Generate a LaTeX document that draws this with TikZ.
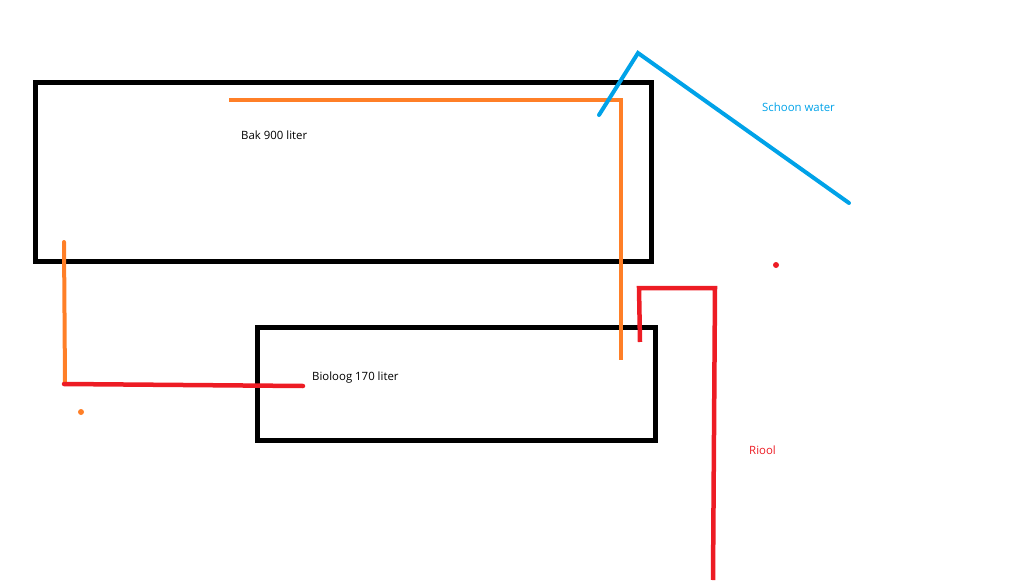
\documentclass[tikz,border=0pt]{standalone}
\usepackage{fontspec}
\setmainfont{Open Sans}
\definecolor{paintorange}{RGB}{255,127,39}
\definecolor{paintred}{RGB}{237,28,36}
\definecolor{paintblue}{RGB}{0,162,232}
\begin{document}
\begin{tikzpicture}[x=1pt,y=-1pt,
  tank/.style={draw=black,line width=5pt,inner sep=0pt},
  opipe/.style={draw=paintorange,line width=4pt,line cap=round},
  rpipe/.style={draw=paintred,line width=4.5pt,line cap=round},
  bpipe/.style={draw=paintblue,line width=4pt,line cap=round},
  lbl/.style={font=\fontsize{11.4}{13}\selectfont,anchor=west,inner sep=0pt}]
\useasboundingbox (0,0) rectangle (1023,586);
% tanks
\draw[tank] (35,83) rectangle (651,261);
\draw[tank] (257,327) rectangle (655,440);
% orange pipes
\coordinate (o1) at (229,100);
\coordinate (o2) at (621,100);
\coordinate (o3) at (621,360);
\draw[opipe,line cap=butt] (o1) -- (o2) -- (o3);
\coordinate (o4) at (64,242);
\coordinate (o5) at (65,384);
\draw[opipe] (o4) -- (o5);
\fill[paintorange] (81,412) circle (3pt);
% red pipes
\coordinate (r1) at (64,384);
\coordinate (r2) at (303,386);
\draw[rpipe] (r1) -- (r2);
\coordinate (r3) at (640,342);
\coordinate (r4) at (639,288);
\coordinate (r5) at (715,288);
\coordinate (r6) at (713,580);
\draw[rpipe,line cap=butt] (r3) -- (r4) -- (r5) -- (r6);
\fill[paintred] (776,265) circle (3pt);
% blue pipe
\coordinate (b1) at (599,115);
\coordinate (b2) at (638,53);
\coordinate (b3) at (849,203);
\draw[bpipe] (b1) -- (b2) -- (b3);
% labels
\node[lbl] (t1) at (241,135) {Bak 900 liter};
\node[lbl] (t2) at (312,377.5) {Bioloog 170 liter};
\node[lbl,text=paintblue] (t3) at (762,107) {Schoon water};
\node[lbl,text=paintred] (t4) at (749,450) {Riool};
\end{tikzpicture}
\end{document}
